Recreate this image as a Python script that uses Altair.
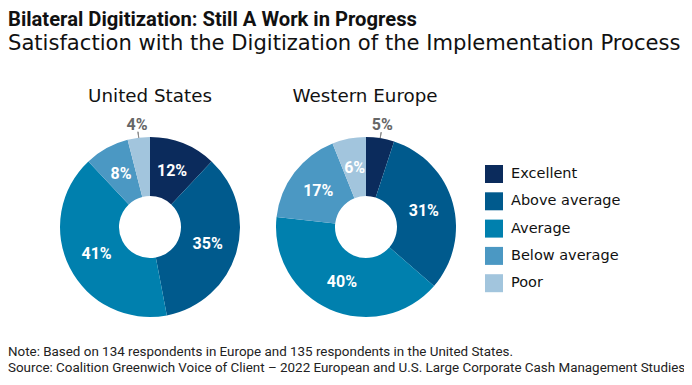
import altair as alt
import pandas as pd

title_text = ["Bilateral Digitization: Still A Work in Progress"]
subtitle_text = ["Satisfaction with the Digitization of the Implementation Process"]
note_lines = [
    "Note: Based on 134 respondents in Europe and 135 respondents in the United States.",
    "Source: Coalition Greenwich Voice of Client \u2013 2022 European and U.S. Large Corporate Cash Management Studies",
]
regions = ["United States", "Western Europe"]
categories = ["Excellent", "Above average", "Average", "Below average", "Poor"]
us_values = [12, 35, 41, 8, 4]
eu_values = [5, 31, 40, 17, 6]
colors = ["#0b2b5c", "#005a8d", "#0080ae", "#4b98c3", "#a2c5dd"]

FONT = "Roboto"
WIDE = "DejaVu Sans"

rows = []
for reg, vals in zip(regions, [us_values, eu_values]):
    for i, (c, v) in enumerate(zip(categories, vals)):
        rows.append({"region": reg, "category": c, "value": v, "order": i, "label": f"{v}%"})
df = pd.DataFrame(rows)

legend = alt.Legend(
    orient="none", legendX=477, legendY=157, title=None,
    symbolType="square", symbolSize=324, symbolStrokeWidth=0, symbolOpacity=1,
    labelFont=WIDE, labelFontSize=14.5, labelColor="#111", rowPadding=9.3,
    labelOffset=8, padding=0,
)


def pie(region, cx, cy):
    b = alt.Chart(df).transform_filter(alt.datum.region == region)
    arcs = b.mark_arc(innerRadius=31, outerRadius=90).encode(
        theta=alt.Theta("value:Q", stack=True),
        color=alt.Color("category:N", sort=categories,
                        scale=alt.Scale(domain=categories, range=colors),
                        legend=legend),
        order=alt.Order("order:Q", sort="ascending"),
        x=alt.value(cx), y=alt.value(cy),
    )
    inside = b.mark_text(font=FONT, fontSize=16, fontWeight="bold", color="white",
                         baseline="middle").encode(
        theta=alt.Theta("value:Q", stack=True),
        order=alt.Order("order:Q", sort="ascending"),
        radius=alt.value(60),
        text="label:N",
        opacity=alt.when(alt.datum.value > 5).then(alt.value(1)).otherwise(alt.value(0)),
        x=alt.value(cx), y=alt.value(cy),
    )
    outside = b.mark_text(font=FONT, fontSize=16, fontWeight="bold", color="#666",
                          baseline="middle").encode(
        theta=alt.Theta("value:Q", stack=True),
        order=alt.Order("order:Q", sort="ascending"),
        radius=alt.value(103),
        text="label:N",
        opacity=alt.when(alt.datum.value > 5).then(alt.value(0)).otherwise(alt.value(1)),
        x=alt.value(cx), y=alt.value(cy),
    )
    leader = (
        b.transform_joinaggregate(total="sum(value)")
        .transform_window(cum="sum(value)", sort=[alt.SortField("order")])
        .transform_calculate(
            mid="2*PI*(datum.cum - datum.value/2)/datum.total",
            mid2="2*PI*(datum.cum - datum.value/2)/datum.total + 0.0001",
        )
        .transform_filter(alt.datum.value <= 5)
        .mark_arc(innerRadius=90, outerRadius=96, stroke="#888", strokeWidth=1, fillOpacity=0)
        .encode(
            theta=alt.Theta("mid:Q", scale=None),
            theta2="mid2:Q",
            x=alt.value(cx), y=alt.value(cy),
        )
    )
    return alt.layer(arcs, inside, outside, leader)


def text_layer(lines, x, y, size, weight="normal", color="#111", align="left", font=FONT):
    return alt.Chart(pd.DataFrame({"t": lines})).mark_text(
        font=font, fontSize=size, fontWeight=weight, color=color, align=align,
        baseline="alphabetic",
    ).encode(text="t:N", x=alt.value(x), y=alt.value(y))


title = text_layer(title_text, 0, 17.8, 20.2, "bold", "#111")
subtitle = text_layer(subtitle_text, 0, 42, 21.1, "normal", "#111", font=WIDE)
us_title = text_layer([regions[0]], 142, 94, 18.3, "normal", "#111", "center", font=WIDE)
eu_title = text_layer([regions[1]], 357, 94, 18.3, "normal", "#111", "center", font=WIDE)
note1 = text_layer([note_lines[0]], 0, 348, 13.4, "normal", "#222")
note2 = text_layer([note_lines[1]], 0, 364, 13.4, "normal", "#222")

chart = alt.layer(
    pie(regions[0], 142, 219),
    pie(regions[1], 358, 219),
    title, subtitle, us_title, eu_title, note1, note2,
).resolve_scale(theta="independent").properties(
    width=676, height=369, autosize="none", padding=0
).configure_view(stroke=None)

chart.save("out.html", embed_options={"renderer": "svg", "actions": False})
